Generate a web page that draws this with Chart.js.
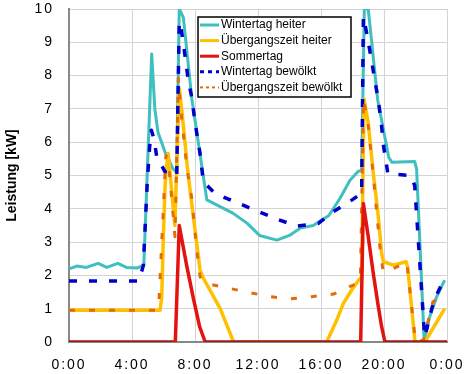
<!DOCTYPE html>
<html>
<head>
<meta charset="utf-8">
<script src="https://cdn.jsdelivr.net/npm/chart.js@4/dist/chart.umd.min.js"></script>
<style>
  html, body { margin: 0; padding: 0; background: #fff; }
  canvas { display: block; }
</style>
</head>
<body>
<canvas id="chart" width="468" height="374"></canvas>
<script>
// Achsen-Beschriftung
const xLabels = ['0:00', '4:00', '8:00', '12:00', '16:00', '20:00', '0:00'];
const yTitle = 'Leistung [kW]';
const seriesNames = ['Wintertag heiter', 'Übergangszeit heiter', 'Sommertag', 'Wintertag bewölkt', 'Übergangszeit bewölkt'];

// Wintertag heiter (Stunde / kW)
const wtHeiterHours = [0, 0.5, 1.1, 1.85, 2.4, 3.1, 3.65, 4.3, 4.75, 5.25, 5.45, 5.65, 6.1, 6.6, 6.84, 7.0, 7.26, 7.8, 8.75, 10.4, 11.3, 12.1, 13.2, 14.0, 14.7, 15.5, 16.5, 17.2, 17.84, 18.37, 18.58, 18.75, 19.0, 19.6, 20.3, 20.5, 21.95, 22.07, 22.55, 22.9, 23.35, 23.85];
const wtHeiterKw = [2.2, 2.28, 2.24, 2.36, 2.24, 2.36, 2.24, 2.22, 2.3, 8.65, 7.0, 6.3, 5.7, 5.2, 5.1, 10.0, 9.75, 7.3, 4.27, 3.87, 3.57, 3.2, 3.06, 3.2, 3.42, 3.5, 3.8, 4.31, 4.86, 5.13, 5.15, 10.0, 10.0, 7.27, 5.55, 5.4, 5.42, 5.2, 0.05, 0.76, 1.36, 1.86];

// Übergangszeit heiter
const ubHeiterHours = [0, 5.78, 5.89, 5.99, 6.1, 6.16, 6.3, 6.72, 7.0, 7.16, 7.37, 7.51, 7.79, 8.11, 8.32, 8.55, 9.6, 10.45, 16.36, 17.0, 17.42, 17.95, 18.4, 18.58, 18.73, 19.0, 19.32, 19.64, 19.85, 19.96, 20.6, 21.4, 21.5, 21.97, 22.6, 23.85];
const ubHeiterKw = [0.95, 0.95, 1.36, 3.16, 4.66, 5.17, 5.66, 3.5, 7.62, 6.97, 5.97, 5.27, 4.16, 2.96, 2.16, 1.9, 1.0, 0, 0, 0.66, 1.16, 1.56, 1.86, 1.95, 7.3, 6.57, 5.07, 3.76, 2.66, 2.41, 2.31, 2.41, 2.26, 0, 0, 1.0];

// Sommertag
const sommerHours = [0, 6.75, 7.0, 7.47, 7.9, 8.3, 8.65, 18.52, 18.69, 19.0, 19.32, 19.64, 19.85, 20.06, 24];
const sommerKw = [0, 0, 3.5, 2.3, 1.3, 0.45, 0, 0, 4.16, 3.16, 2.06, 1.06, 0.46, 0, 0];

// Wintertag bewölkt
const wtBewHours = [0, 4.45, 4.72, 4.97, 5.12, 5.23, 5.4, 5.57, 6.1, 6.84, 7.0, 7.11, 7.26, 7.57, 7.79, 7.94, 8.11, 8.32, 8.53, 9.27, 10.54, 11.81, 13.08, 14.46, 15.83, 16.78, 17.95, 18.4, 18.58, 18.69, 18.9, 19.22, 19.43, 19.64, 19.85, 19.96, 20.25, 21.7, 21.95, 22.58, 22.7, 23.03, 23.24, 23.8];
const wtBewKw = [1.83, 1.83, 2.3, 4.81, 5.86, 6.36, 6.1, 5.56, 5.11, 5.0, 9.62, 9.43, 8.97, 7.87, 7.36, 6.82, 6.27, 5.66, 4.81, 4.46, 4.21, 3.96, 3.71, 3.48, 3.56, 3.91, 4.26, 4.41, 4.45, 9.77, 9.28, 8.42, 7.82, 7.27, 6.47, 5.92, 5.05, 5.0, 4.7, 0.15, 0.36, 1.0, 1.32, 1.86];

// Übergangszeit bewölkt
const ubBewHours = [0, 5.62, 5.7, 6.15, 6.3, 6.73, 6.94, 7.16, 7.37, 7.47, 7.8, 8.0, 8.15, 8.32, 8.63, 9.7, 11.2, 12.55, 13.9, 15.4, 16.8, 18.05, 18.5, 18.7, 19.0, 19.32, 19.75, 19.95, 20.35, 21.45, 22.0, 22.5, 23.1, 23.85];
const ubBewKw = [0.95, 0.95, 1.1, 5.6, 5.5, 3.16, 7.92, 6.67, 5.77, 5.27, 4.3, 3.3, 2.6, 1.96, 1.76, 1.66, 1.51, 1.38, 1.29, 1.36, 1.44, 1.71, 1.85, 7.3, 6.5, 5.0, 2.8, 2.1, 2.15, 2.4, 0, 0.05, 1.2, 1.45];

const FONT = '"Liberation Sans", Arial, sans-serif';

function points(hours, kw) {
    return hours.map((h, i) => ({ x: h, y: kw[i] }));
}

// Legende im Diagramm + Achsentitel
const overlay = {
    id: 'overlay',
    beforeDraw(chart) {
        chart.ctx.letterSpacing = '2px'; // weite Ziffern wie im Original
    },
    afterDraw(chart) {
        const ctx = chart.ctx;
        const a = chart.chartArea;
        ctx.save();
        ctx.letterSpacing = '0px';

        // Titel der y-Achse
        ctx.save();
        ctx.translate(12, (a.top + a.bottom) / 2);
        ctx.rotate(-Math.PI / 2);
        ctx.font = 'bold 14px ' + FONT;
        ctx.fillStyle = '#000';
        ctx.textAlign = 'center';
        ctx.textBaseline = 'middle';
        ctx.fillText(yTitle, 0, 0);
        ctx.restore();

        // Legendenkasten
        const bx = a.left + 129, by = a.top + 8, bw = 153, bh = 80;
        ctx.fillStyle = '#fff';
        ctx.fillRect(bx, by, bw, bh);
        ctx.strokeStyle = '#000';
        ctx.lineWidth = 1.5;
        ctx.strokeRect(bx, by, bw, bh);

        ctx.font = '12px ' + FONT;
        ctx.textAlign = 'left';
        ctx.textBaseline = 'middle';
        chart.data.datasets.forEach((ds, i) => {
            const y = by + 8 + i * 15.6;
            ctx.save();
            ctx.strokeStyle = ds.borderColor;
            ctx.lineWidth = ds.legendWidth;
            ctx.setLineDash(ds.legendDash);
            ctx.beginPath();
            ctx.moveTo(bx + 2, y);
            ctx.lineTo(bx + 21, y);
            ctx.stroke();
            ctx.restore();
            ctx.fillStyle = '#000';
            ctx.fillText(ds.label, bx + 23, y);
        });
        ctx.restore();
    }
};

const datasets = [
    {
        label: seriesNames[0], data: points(wtHeiterHours, wtHeiterKw),
        borderColor: '#3fbfbf', borderWidth: 3, order: 5,
        legendWidth: 3, legendDash: []
    },
    {
        label: seriesNames[1], data: points(ubHeiterHours, ubHeiterKw),
        borderColor: '#ffc000', borderWidth: 3.5, order: 4,
        legendWidth: 3, legendDash: []
    },
    {
        label: seriesNames[2], data: points(sommerHours, sommerKw),
        borderColor: '#e3140f', borderWidth: 3.5, order: 1,
        legendWidth: 3, legendDash: [],
        segment: {
            borderColor: c => (c.p0.parsed.y === 0 && c.p1.parsed.y === 0) ? '#a01818' : undefined
        }
    },
    {
        label: seriesNames[3], data: points(wtBewHours, wtBewKw),
        borderColor: '#0000cc', borderWidth: 3.5, order: 3,
        borderDash: [8, 12], legendWidth: 3, legendDash: [4, 4]
    },
    {
        label: seriesNames[4], data: points(ubBewHours, ubBewKw),
        borderColor: '#e36c0a', borderWidth: 3, order: 2,
        borderDash: [6, 14], legendWidth: 2, legendDash: [3, 3]
    }
];

new Chart(document.getElementById('chart').getContext('2d'), {
    type: 'line',
    data: { datasets: datasets },
    options: {
        responsive: false,
        animation: false,
        devicePixelRatio: 1,
        elements: {
            point: { radius: 0 },
            line: { tension: 0, borderJoinStyle: 'round', fill: false }
        },
        layout: { padding: { top: 9, right: 21, left: 0, bottom: 0 } },
        plugins: { legend: { display: false }, tooltip: { enabled: false } },
        scales: {
            x: {
                type: 'linear', min: 0, max: 24,
                afterFit: s => { s.height = 32; s.paddingLeft = 0; s.paddingRight = 0; },
                afterBuildTicks: s => { s.ticks = xLabels.map((_, i) => ({ value: i * 4 })); },
                ticks: {
                    padding: 15, color: '#000', maxRotation: 0, autoSkip: false,
                    font: { family: FONT, size: 14 },
                    callback: v => xLabels[v / 4]
                },
                grid: { color: '#d4d4d4', lineWidth: 1, drawTicks: false },
                border: { color: '#888', width: 2 }
            },
            y: {
                min: 0, max: 10,
                afterFit: s => { s.width = 69; s.paddingTop = 0; s.paddingBottom = 0; },
                ticks: {
                    stepSize: 1, padding: 15, color: '#000',
                    font: { family: FONT, size: 14 }
                },
                grid: { color: '#d4d4d4', lineWidth: 1, drawTicks: false },
                border: { color: '#888', width: 2 }
            }
        }
    },
    plugins: [overlay]
});
</script>
</body>
</html>
